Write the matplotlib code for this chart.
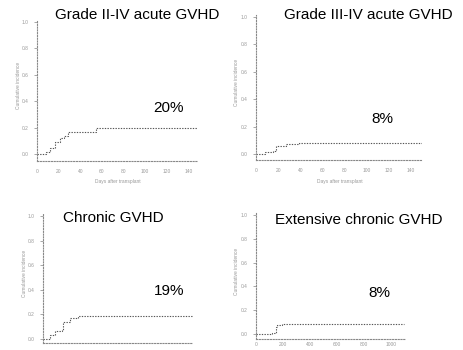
import numpy as np
import matplotlib
matplotlib.use('Agg')
import matplotlib.pyplot as plt

#---------------------------------------------------------------------------------
# DATA

acute24_days = [0, 5, 8, 12, 17, 21, 25, 29, 50, 55, 148]
acute24_cum = [0.0, 0.0, 0.015, 0.045, 0.09, 0.12, 0.14, 0.17, 0.17, 0.195, 0.195]

acute34_days = [0, 5, 8, 15, 18, 27, 39, 150]
acute34_cum = [0.0, 0.0, 0.012, 0.02, 0.055, 0.07, 0.082, 0.082]

chronic_days = [0, 52, 90, 142, 150, 202, 262, 1120]
chronic_cum = [0.0, 0.033, 0.061, 0.075, 0.14, 0.17, 0.19, 0.19]

ext_chronic_days = [0, 120, 150, 157, 195, 1090]
ext_chronic_cum = [0.0, 0.012, 0.06, 0.075, 0.08, 0.08]

titles = ['Grade II-IV acute GVHD', 'Grade III-IV acute GVHD',
          'Chronic GVHD', 'Extensive chronic GVHD']
final_pct = ['20%', '8%', '19%', '8%']

y_ticks = [0.0, 0.2, 0.4, 0.6, 0.8, 1.0]
acute_x_ticks = [0, 20, 40, 60, 80, 100, 120, 140]
chronic_x_ticks = [0, 200, 400, 600, 800, 1000]

#---------------------------------------------------------------------------------
# FIGURE

W, H = 463, 350
fig = plt.figure(figsize=(W / 100, H / 100), dpi=100)
plt.rcParams['font.family'] = ['Liberation Sans', 'DejaVu Sans']

def px(x, y):
    return x / W, 1 - y / H

def make_axes(left, right, top, bottom, xlim, ylim, xticks, xpad, show_x):
    l, t = px(left, top)
    r, b = px(right, bottom)
    ax = fig.add_axes([l, b, r - l, t - b])
    ax.set_xlim(*xlim)
    ax.set_ylim(*ylim)
    for side in ['top', 'right']:
        ax.spines[side].set_visible(False)
    for side in ['left', 'bottom']:
        ax.spines[side].set_linestyle((0, (1, 1.5)))
        ax.spines[side].set_color('#888888')
        ax.spines[side].set_linewidth(0.8)
    ax.set_yticks(y_ticks)
    ax.set_yticklabels(['%.1f' % v for v in y_ticks])
    ax.set_xticks(xticks)
    ax.tick_params(axis='both', labelsize=3.5, colors='#999999', length=2,
                   width=0.6, pad=4)
    ax.tick_params(axis='x', length=0, pad=xpad, labelbottom=show_x)
    return ax

def draw_curve(ax, days, cum):
    ax.step(days, cum, where='post', color='#555555', lw=0.8,
            linestyle=(0, (1.2, 1.2)))

panels = [
    dict(box=(37, 197, 20, 161), xlim=(0, 148), ylim=(-0.053, 1.015),
         xticks=acute_x_ticks, xpad=6, show_x=True,
         data=(acute24_days, acute24_cum)),
    dict(box=(256, 422, 15, 160), xlim=(0, 150), ylim=(-0.044, 1.015),
         xticks=acute_x_ticks, xpad=6, show_x=True,
         data=(acute34_days, acute34_cum)),
    # bottom-left tick labels fall below the picture edge in the reference
    dict(box=(43, 193, 214, 343), xlim=(0, 1120), ylim=(-0.033, 1.016),
         xticks=chronic_x_ticks, xpad=6, show_x=False,
         data=(chronic_days, chronic_cum)),
    dict(box=(256, 405, 213, 339), xlim=(0, 1100), ylim=(-0.042, 1.017),
         xticks=chronic_x_ticks, xpad=2.5, show_x=True,
         data=(ext_chronic_days, ext_chronic_cum)),
]

for p in panels:
    left, right, top, bottom = p['box']
    ax = make_axes(left, right, top, bottom, p['xlim'], p['ylim'], p['xticks'],
                   p['xpad'], p['show_x'])
    draw_curve(ax, *p['data'])
    # y axis label
    fig.text(*px(left - 19, (top + bottom) / 2 - 5), 'Cumulative incidence',
             rotation=90, fontsize=3.5, color='#999999', ha='center', va='center')

# x labels (only the top row is inside the picture)
fig.text(*px(118, 182), 'Days after transplant', fontsize=3.5, color='#999999',
         ha='center', va='center')
fig.text(*px(340, 181), 'Days after transplant', fontsize=3.5, color='#999999',
         ha='center', va='center')

#---------------------------------------------------------------------------------
# TITLES AND PERCENTAGES

title_pos = [(137, 15), (368, 15), (113, 218), (359, 220)]
pct_pos = [(168, 108), (382, 119), (169, 291), (379, 293)]

for txt, (x, y) in zip(titles, title_pos):
    fig.text(*px(x, y), txt, fontsize=11, ha='center', va='center')
for txt, (x, y) in zip(final_pct, pct_pos):
    fig.text(*px(x, y), txt, fontsize=11, ha='center', va='center')

fig.savefig('out.png', dpi=100)
